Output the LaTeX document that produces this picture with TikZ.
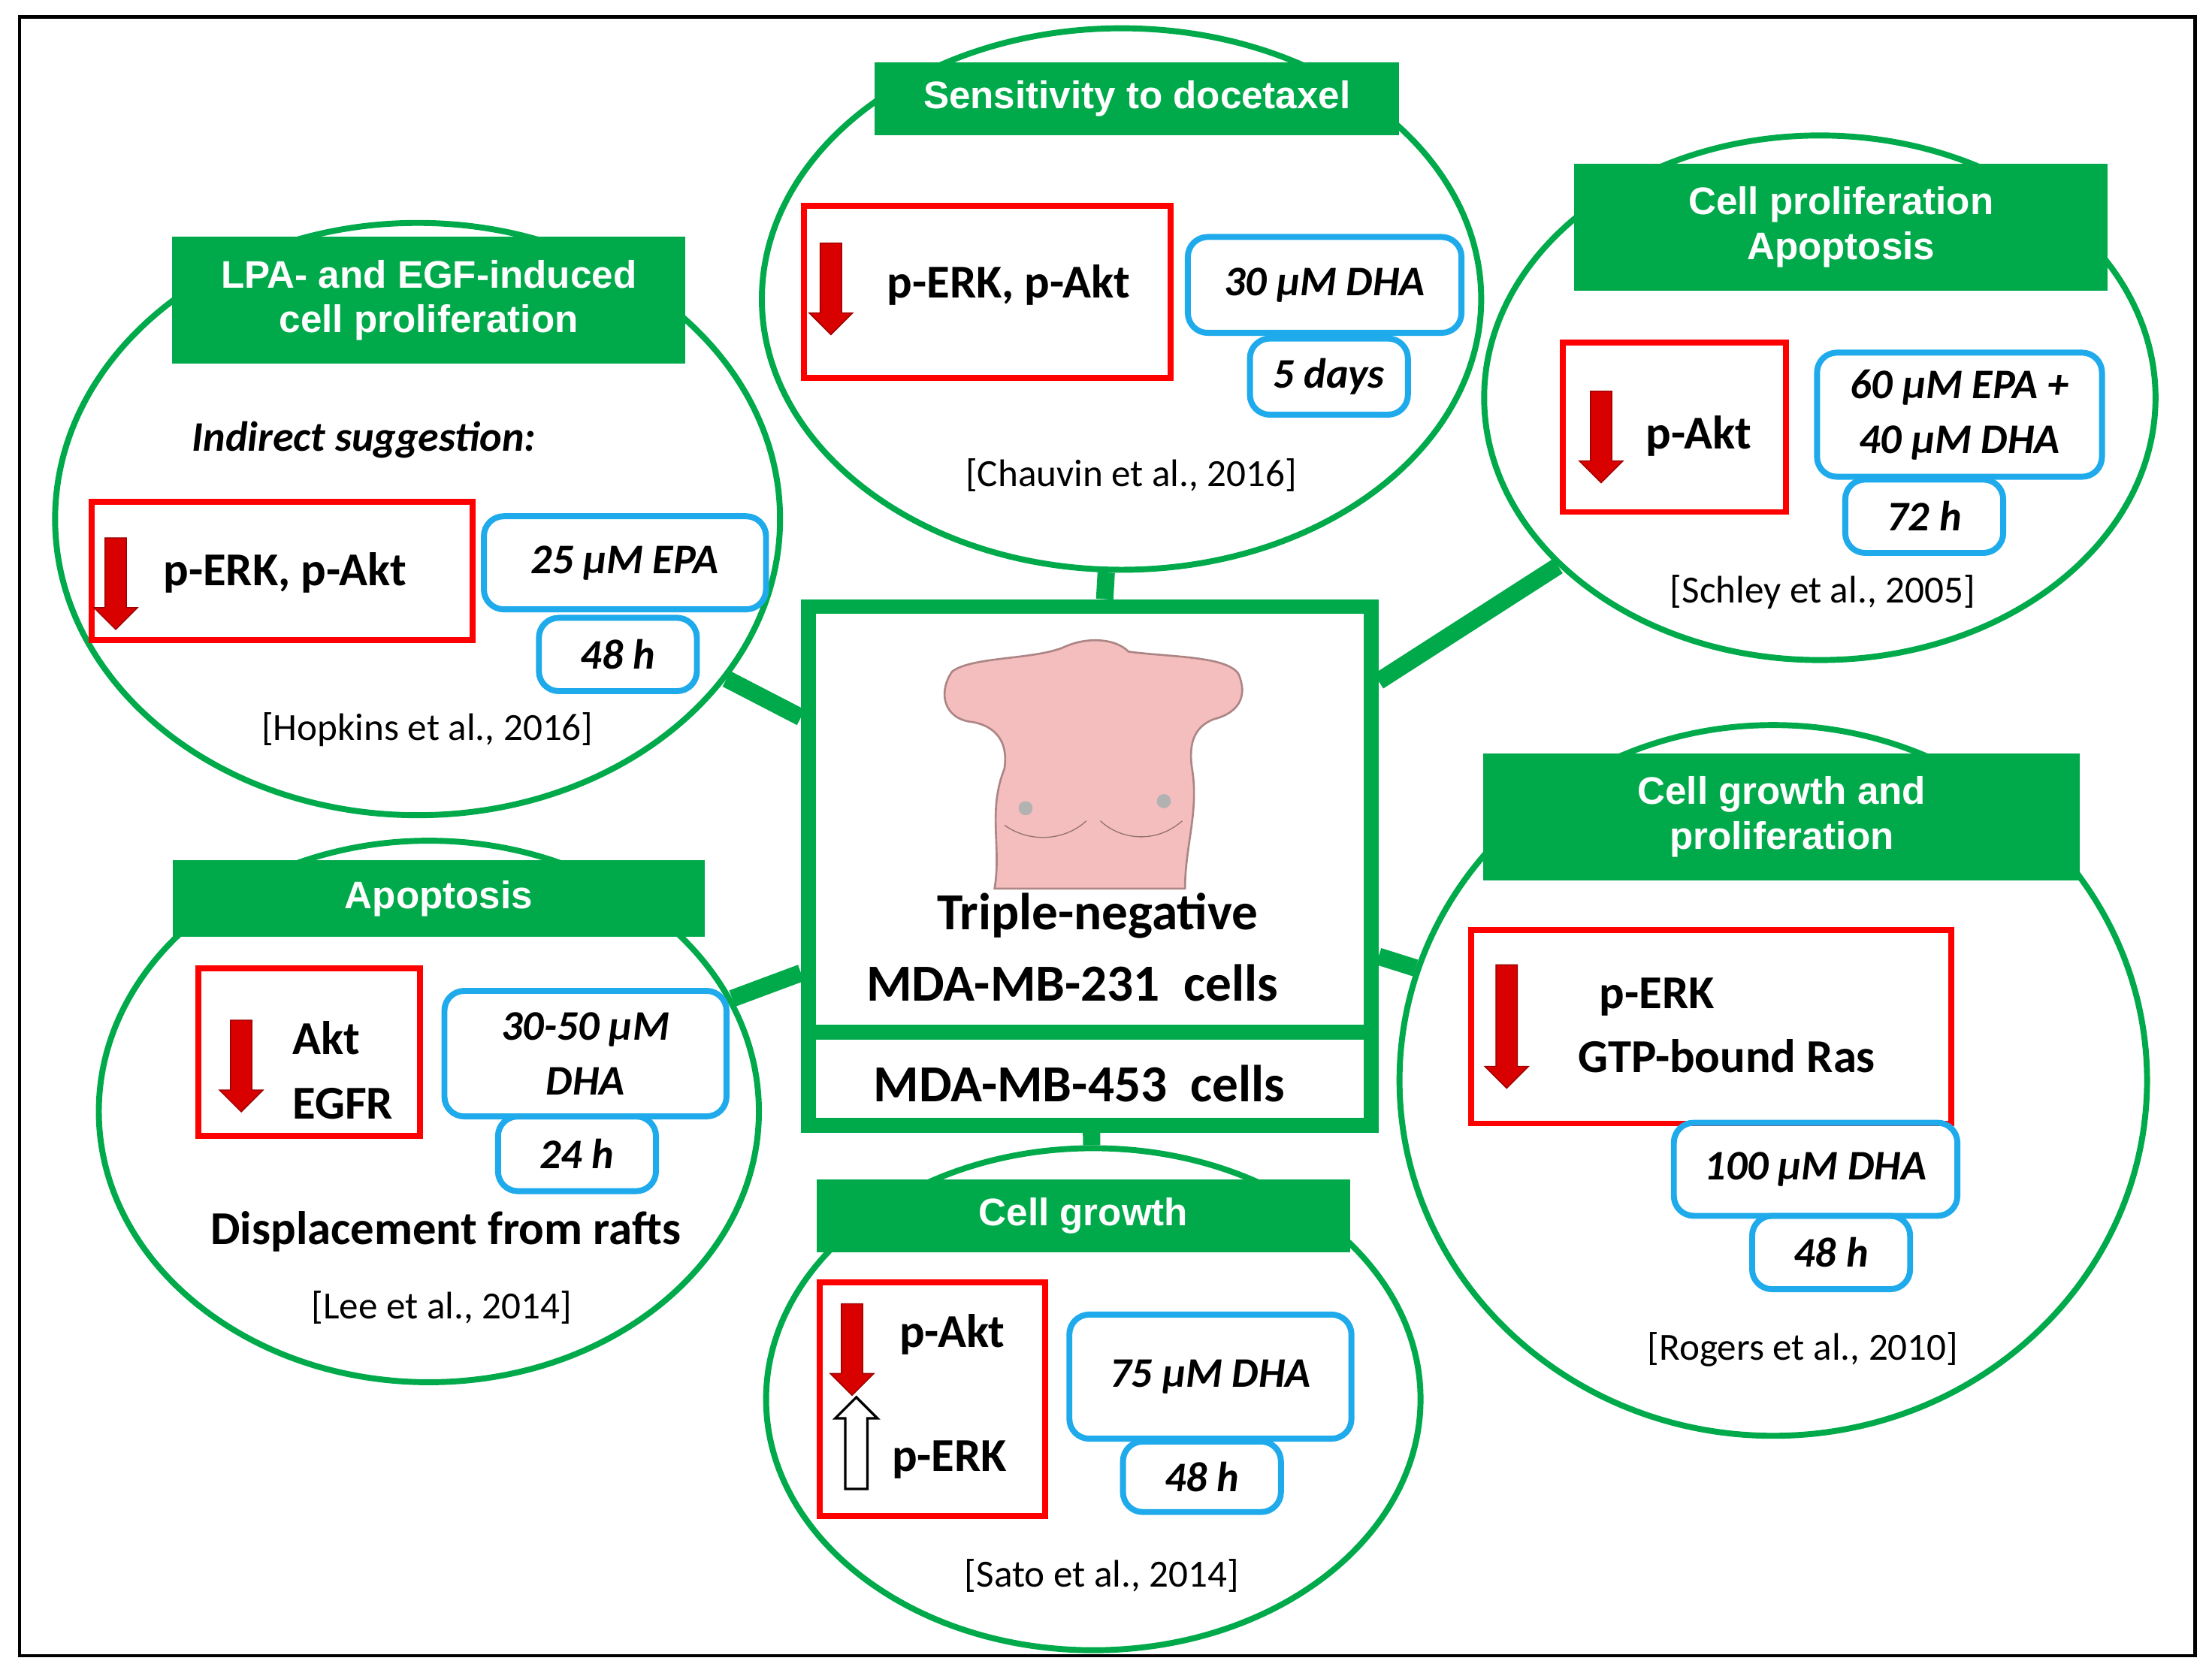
\documentclass[tikz,border=0pt]{standalone}
\usepackage{fontspec}
\setmainfont{Liberation Sans}
\newfontfamily\carl{Carlito}
\usetikzlibrary{shapes.geometric,shapes.arrows}

\definecolor{grn}{RGB}{0,170,75}
\definecolor{blu}{RGB}{30,170,235}
\definecolor{skin}{RGB}{245,190,190}

\tikzset{
  bubble/.style={ellipse,draw=grn,line width=2.4pt},
  head/.style={fill=grn,text=white,font=\bfseries\fontsize{15.5}{18}\selectfont,align=center,inner sep=0pt},
  redbox/.style={draw=red,line width=2.4pt,inner sep=0pt},
  bluebox/.style={draw=blu,line width=2.4pt,rounded corners=8pt,inner sep=0pt,align=center,
    font=\carl\bfseries\itshape\fontsize{17}{22}\selectfont},
  cite/.style={font=\carl\fontsize{15.5}{18}\selectfont},
  body/.style={font=\carl\bfseries\fontsize{19}{26}\selectfont,align=left},
  down/.style={single arrow,shape border rotate=270,fill=red!85!black,draw=red!60!black,
    minimum height=1.3cm,minimum width=0.62cm,single arrow head extend=0.08cm,inner sep=0.07cm},
  up/.style={single arrow,shape border rotate=90,fill=white,draw=black,line width=1pt,
    minimum height=1.3cm,minimum width=0.6cm,single arrow head extend=0.08cm,inner sep=0.07cm},
  link/.style={draw=grn,line width=7pt}
}

\begin{document}
\begin{tikzpicture}[x=0.02cm,y=-0.02cm]
  \useasboundingbox (0,0) rectangle (1568,1190);
  \draw[line width=1.3pt] (14,12) rectangle (1556,1174);

  % bubbles
  \node[bubble,minimum width=10.28cm,minimum height=8.4cm]  (hopkins) at (296,368) {};
  \node[bubble,minimum width=10.2cm,minimum height=7.68cm]  (chauvin) at (795,212) {};
  \node[bubble,minimum width=9.52cm,minimum height=7.44cm]  (schley)  at (1290,282) {};
  \node[bubble,minimum width=9.36cm,minimum height=7.68cm]  (lee)     at (304,788) {};
  \node[bubble,minimum width=10.6cm,minimum height=10.08cm] (rogers)  at (1257,766) {};
  \node[bubble,minimum width=9.28cm,minimum height=7.12cm]  (sato)    at (775,992) {};

  % centre box
  \node[draw=grn,line width=6pt,minimum width=7.98cm,minimum height=7.36cm] (cells) at (772.5,614) {};
  \draw[grn,line width=6pt] (573,732) -- (972,732);
  \path[link] (chauvin) -- (cells) (hopkins) -- (cells) (schley) -- (cells)
              (lee) -- (cells) (rogers) -- (cells) (sato) -- (cells);
  \fill[white] (579,436) rectangle (966,726);
  \fill[white] (579,738) rectangle (966,792);

  % torso
  \draw[skin!70!black,fill=skin,line width=0.8pt] (756,458) .. controls (770,452) and (790,452) .. (800,462)
    .. controls (830,466) and (870,465) .. (878,478) .. controls (884,492) and (880,505) .. (860,510)
    .. controls (848,515) and (842,525) .. (845,545) .. controls (850,575) and (840,600) .. (840,630)
    -- (705,630) .. controls (710,600) and (700,575) .. (712,545) .. controls (715,525) and (705,515) .. (690,512)
    .. controls (668,510) and (665,490) .. (675,476) .. controls (690,465) and (735,468) .. (756,458) -- cycle;
  \draw[skin!60!black] (712,585) .. controls (730,598) and (755,596) .. (770,582);
  \draw[skin!60!black] (780,582) .. controls (795,596) and (820,598) .. (838,582);
  \fill[gray!60] (727,573) circle (5);
  \fill[gray!60] (825,568) circle (5);
  \node[font=\carl\bfseries\fontsize{21}{24}\selectfont] (tn)  at (778,649) {Triple-negative};
  \node[font=\carl\bfseries\fontsize{21}{24}\selectfont] (m231) at (760,697) {MDA-MB-231~ cells};
  \node[font=\carl\bfseries\fontsize{21}{24}\selectfont] (m453) at (765,768) {MDA-MB-453~ cells};

  % Hopkins
  \node[head,minimum width=7.28cm,minimum height=1.8cm] (h1) at (304,213) {LPA- and EGF-induced\\cell proliferation};
  \node[body,font=\carl\bfseries\itshape\fontsize{17}{20}\selectfont] (h2) at (258,312) {Indirect suggestion:};
  \node[redbox,minimum width=5.4cm,minimum height=1.96cm] (h3) at (200,405) {};
  \node[down] (h4) at (82,410) {};
  \node[body] at (202,406) {p-ERK, p-Akt};
  \node[bluebox,minimum width=4cm,minimum height=1.32cm] (h5) at (443,399) {25 µM EPA};
  \node[bluebox,minimum width=2.24cm,minimum height=1.04cm] (h6) at (438,464) {48 h};
  \node[cite] (h7) at (303,517) {[Hopkins et al., 2016]};

  % Chauvin
  \node[head,minimum width=7.44cm,minimum height=1.04cm] (c1) at (806,70) {Sensitivity to docetaxel};
  \node[redbox,minimum width=5.2cm,minimum height=2.44cm] (c2) at (700,207) {};
  \node[down] (c3) at (589,201) {};
  \node[body] at (715,202) {p-ERK, p-Akt};
  \node[bluebox,minimum width=3.88cm,minimum height=1.36cm] (c4) at (939,202) {30 µM DHA};
  \node[bluebox,minimum width=2.24cm,minimum height=1.08cm] (c5) at (942,267) {5 days};
  \node[cite] (c6) at (802,337) {[Chauvin et al., 2016]};

  % Schley
  \node[head,minimum width=7.56cm,minimum height=1.8cm] (s1) at (1305,161) {Cell proliferation\\Apoptosis};
  \node[redbox,minimum width=3.16cm,minimum height=2.4cm] (s2) at (1187,303) {};
  \node[down] (s3) at (1135,306) {};
  \node[body] at (1204,309) {p-Akt};
  \node[bluebox,minimum width=4.04cm,minimum height=1.76cm] (s4) at (1389,294) {60 µM EPA +\\40 µM DHA};
  \node[bluebox,minimum width=2.24cm,minimum height=1.04cm] (s5) at (1364,366) {72 h};
  \node[cite] (s6) at (1292,420) {[Schley et al., 2005]};

  % Lee
  \node[head,minimum width=7.54cm,minimum height=1.08cm] (l1) at (311,637) {Apoptosis};
  \node[redbox,minimum width=3.14cm,minimum height=2.38cm] (l2) at (219,746) {};
  \node[down] (l3) at (171,752) {};
  \node[body] at (243,759) {Akt\\EGFR};
  \node[bluebox,minimum width=4cm,minimum height=1.78cm] (l4) at (415,747) {30-50 µM\\DHA};
  \node[bluebox,minimum width=2.24cm,minimum height=1.06cm] (l5) at (409,818) {24 h};
  \node[body] (l6) at (316,873) {Displacement from rafts};
  \node[cite] (l7) at (313,927) {[Lee et al., 2014]};

  % Rogers
  \node[head,minimum width=8.46cm,minimum height=1.8cm] (r1) at (1263,579) {Cell growth and\\proliferation};
  \node[redbox,minimum width=6.8cm,minimum height=2.74cm] (r2) at (1213,728) {};
  \node[down,minimum height=1.75cm] (r3) at (1068,724) {};
  \node[body] at (1224,727) {\hspace*{0.3cm}p-ERK\\GTP-bound Ras};
  \node[bluebox,minimum width=4.02cm,minimum height=1.32cm] (r4) at (1287,829) {100 µM DHA};
  \node[bluebox,minimum width=2.24cm,minimum height=1.04cm] (r5) at (1298,888) {48 h};
  \node[cite] (r6) at (1278,957) {[Rogers et al., 2010]};

  % Sato
  \node[head,minimum width=7.56cm,minimum height=1.04cm] (t1) at (768,862) {Cell growth};
  \node[redbox,minimum width=3.2cm,minimum height=3.32cm] (t2) at (661,992) {};
  \node[down] (t3) at (604,953) {};
  \node[up] (t4) at (607,1027) {};
  \node[body] at (675,946) {p-Akt};
  \node[body] at (673,1035) {p-ERK};
  \node[bluebox,minimum width=4cm,minimum height=1.76cm] (t5) at (858,976) {75 µM DHA};
  \node[bluebox,minimum width=2.24cm,minimum height=1cm] (t6) at (852,1047) {48 h};
  \node[cite] (t7) at (781,1117) {[Sato et al., 2014]};
\end{tikzpicture}
\end{document}
